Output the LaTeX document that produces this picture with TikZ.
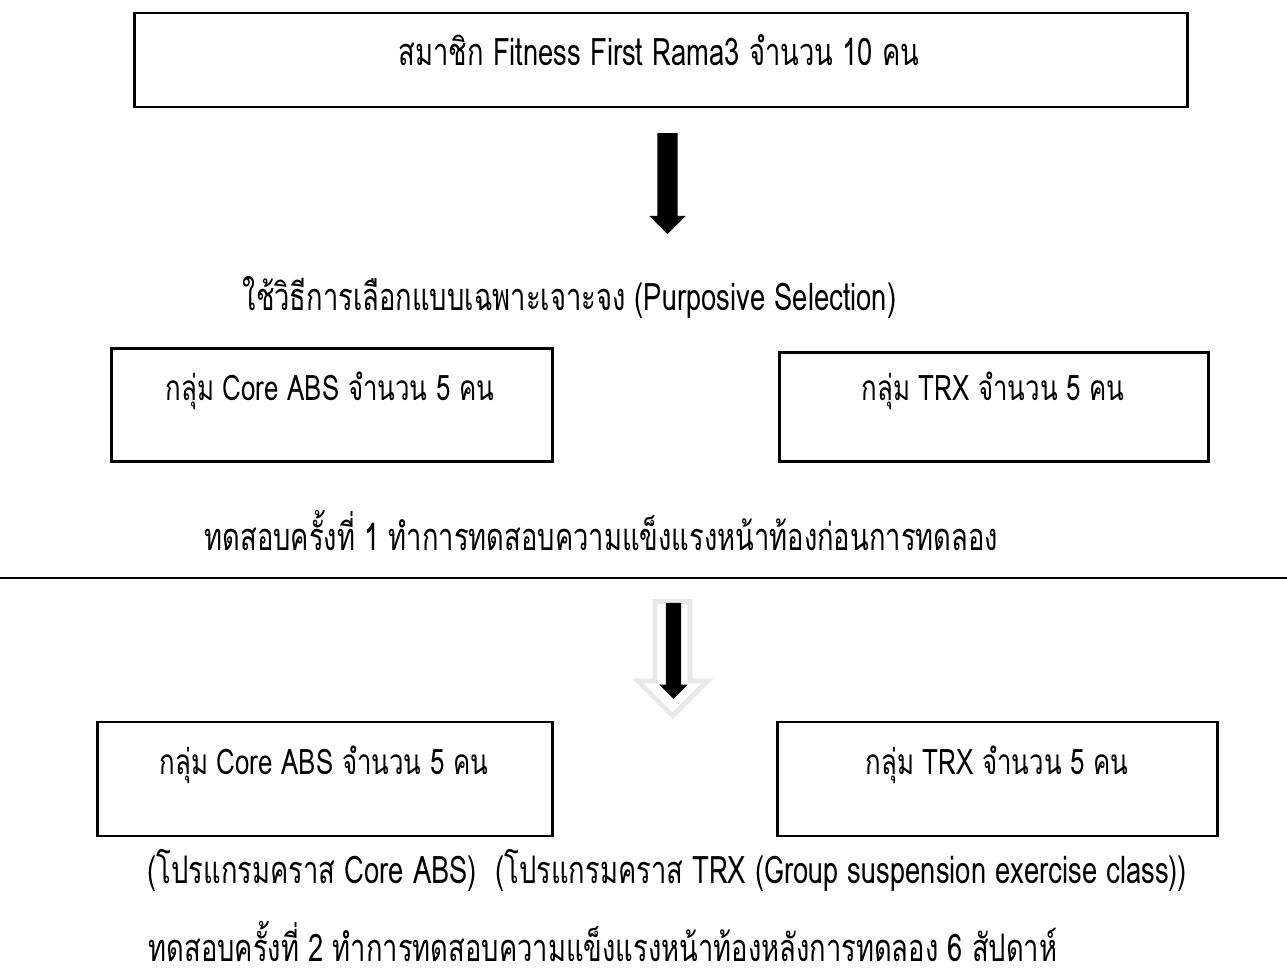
\documentclass[tikz,border=0pt]{standalone}
\usepackage{fontspec}
\newfontfamily\thaifont[Script=Thai,FakeStretch=0.735]{Loma}
\newfontfamily\thaiestreita[Script=Thai,FakeStretch=0.72]{Loma}
\usetikzlibrary{shapes.arrows}
\tikzset{
  caixa/.style={rectangle, draw=black, line width=0.8pt, inner sep=0pt},
  rotulo/.style={font=\thaifont\fontsize{10}{12}\selectfont, inner sep=0pt},
  linha/.style={anchor=west, font=\thaiestreita\fontsize{10.8}{13}\selectfont, inner sep=0pt},
  seta/.style={single arrow, shape border rotate=270, single arrow head indent=0pt},
}

\begin{document}
\begin{tikzpicture}[x=0.01cm, y=-0.01cm]
  \useasboundingbox (0,0) rectangle (1287,970);

  % ---------------- topo ----------------
  \node[caixa, minimum width=10.52cm, minimum height=0.94cm] (membros) at (661,60) {};
  \node[linha] (tmembros) at (398,50) {สมาชิก Fitness First Rama3 จำนวน 10 คน};
  \node[seta, fill=black, inner sep=0.095cm, minimum height=1.01cm, minimum width=0.35cm,
    single arrow head extend=0.08cm] (seta1) at (667.5,178.5) {};
  \node[linha] (selecao) at (242,297) {ใช้วิธีการเลือกแบบเฉพาะเจาะจง (Purposive Selection)};

  % ---------------- grupos antes ----------------
  \node[caixa, minimum width=4.40cm, minimum height=1.13cm] (core1) at (332,405) {};
  \node[rotulo] (tcore1) at (330,391) {กลุ่ม Core ABS จำนวน 5 คน};
  \node[caixa, minimum width=4.28cm, minimum height=1.09cm] (trx1) at (994,407) {};
  \node[rotulo] (ttrx1) at (993,391) {กลุ่ม TRX จำนวน 5 คน};
  \node[linha] (teste1) at (204,530) {ทดสอบครั้งที่ 1 ทำการทดสอบความแข็งแรงหน้าท้องก่อนการทดลอง};
  \draw[line width=0.6pt] (0,578) -- (1287,578);

  % ---------------- seta dupla ----------------
  \node[seta, fill=white, draw=black!9, line width=1.4pt, inner sep=0.15cm, minimum height=1.14cm,
    minimum width=0.65cm, single arrow head extend=0.175cm] (seta2) at (672.5,650) {};
  \node[seta, fill=black, inner sep=0.07cm, minimum height=0.96cm, minimum width=0.27cm,
    single arrow head extend=0.065cm] (seta3) at (673.5,647) {};

  % ---------------- grupos depois ----------------
  \node[caixa, minimum width=4.54cm, minimum height=1.14cm] (core2) at (325,779) {};
  \node[rotulo] (tcore2) at (324,765) {กลุ่ม Core ABS จำนวน 5 คน};
  \node[caixa, minimum width=4.39cm, minimum height=1.14cm] (trx2) at (997.5,779) {};
  \node[rotulo] (ttrx2) at (997,765) {กลุ่ม TRX จำนวน 5 คน};
  \node[linha] (programas) at (147,870) {(โปรแกรมคราส Core ABS)\ \ (โปรแกรมคราส TRX (Group suspension exercise class))};
  \node[linha] (teste2) at (148,941) {ทดสอบครั้งที่ 2 ทำการทดสอบความแข็งแรงหน้าท้องหลังการทดลอง 6 สัปดาห์};
\end{tikzpicture}
\end{document}
